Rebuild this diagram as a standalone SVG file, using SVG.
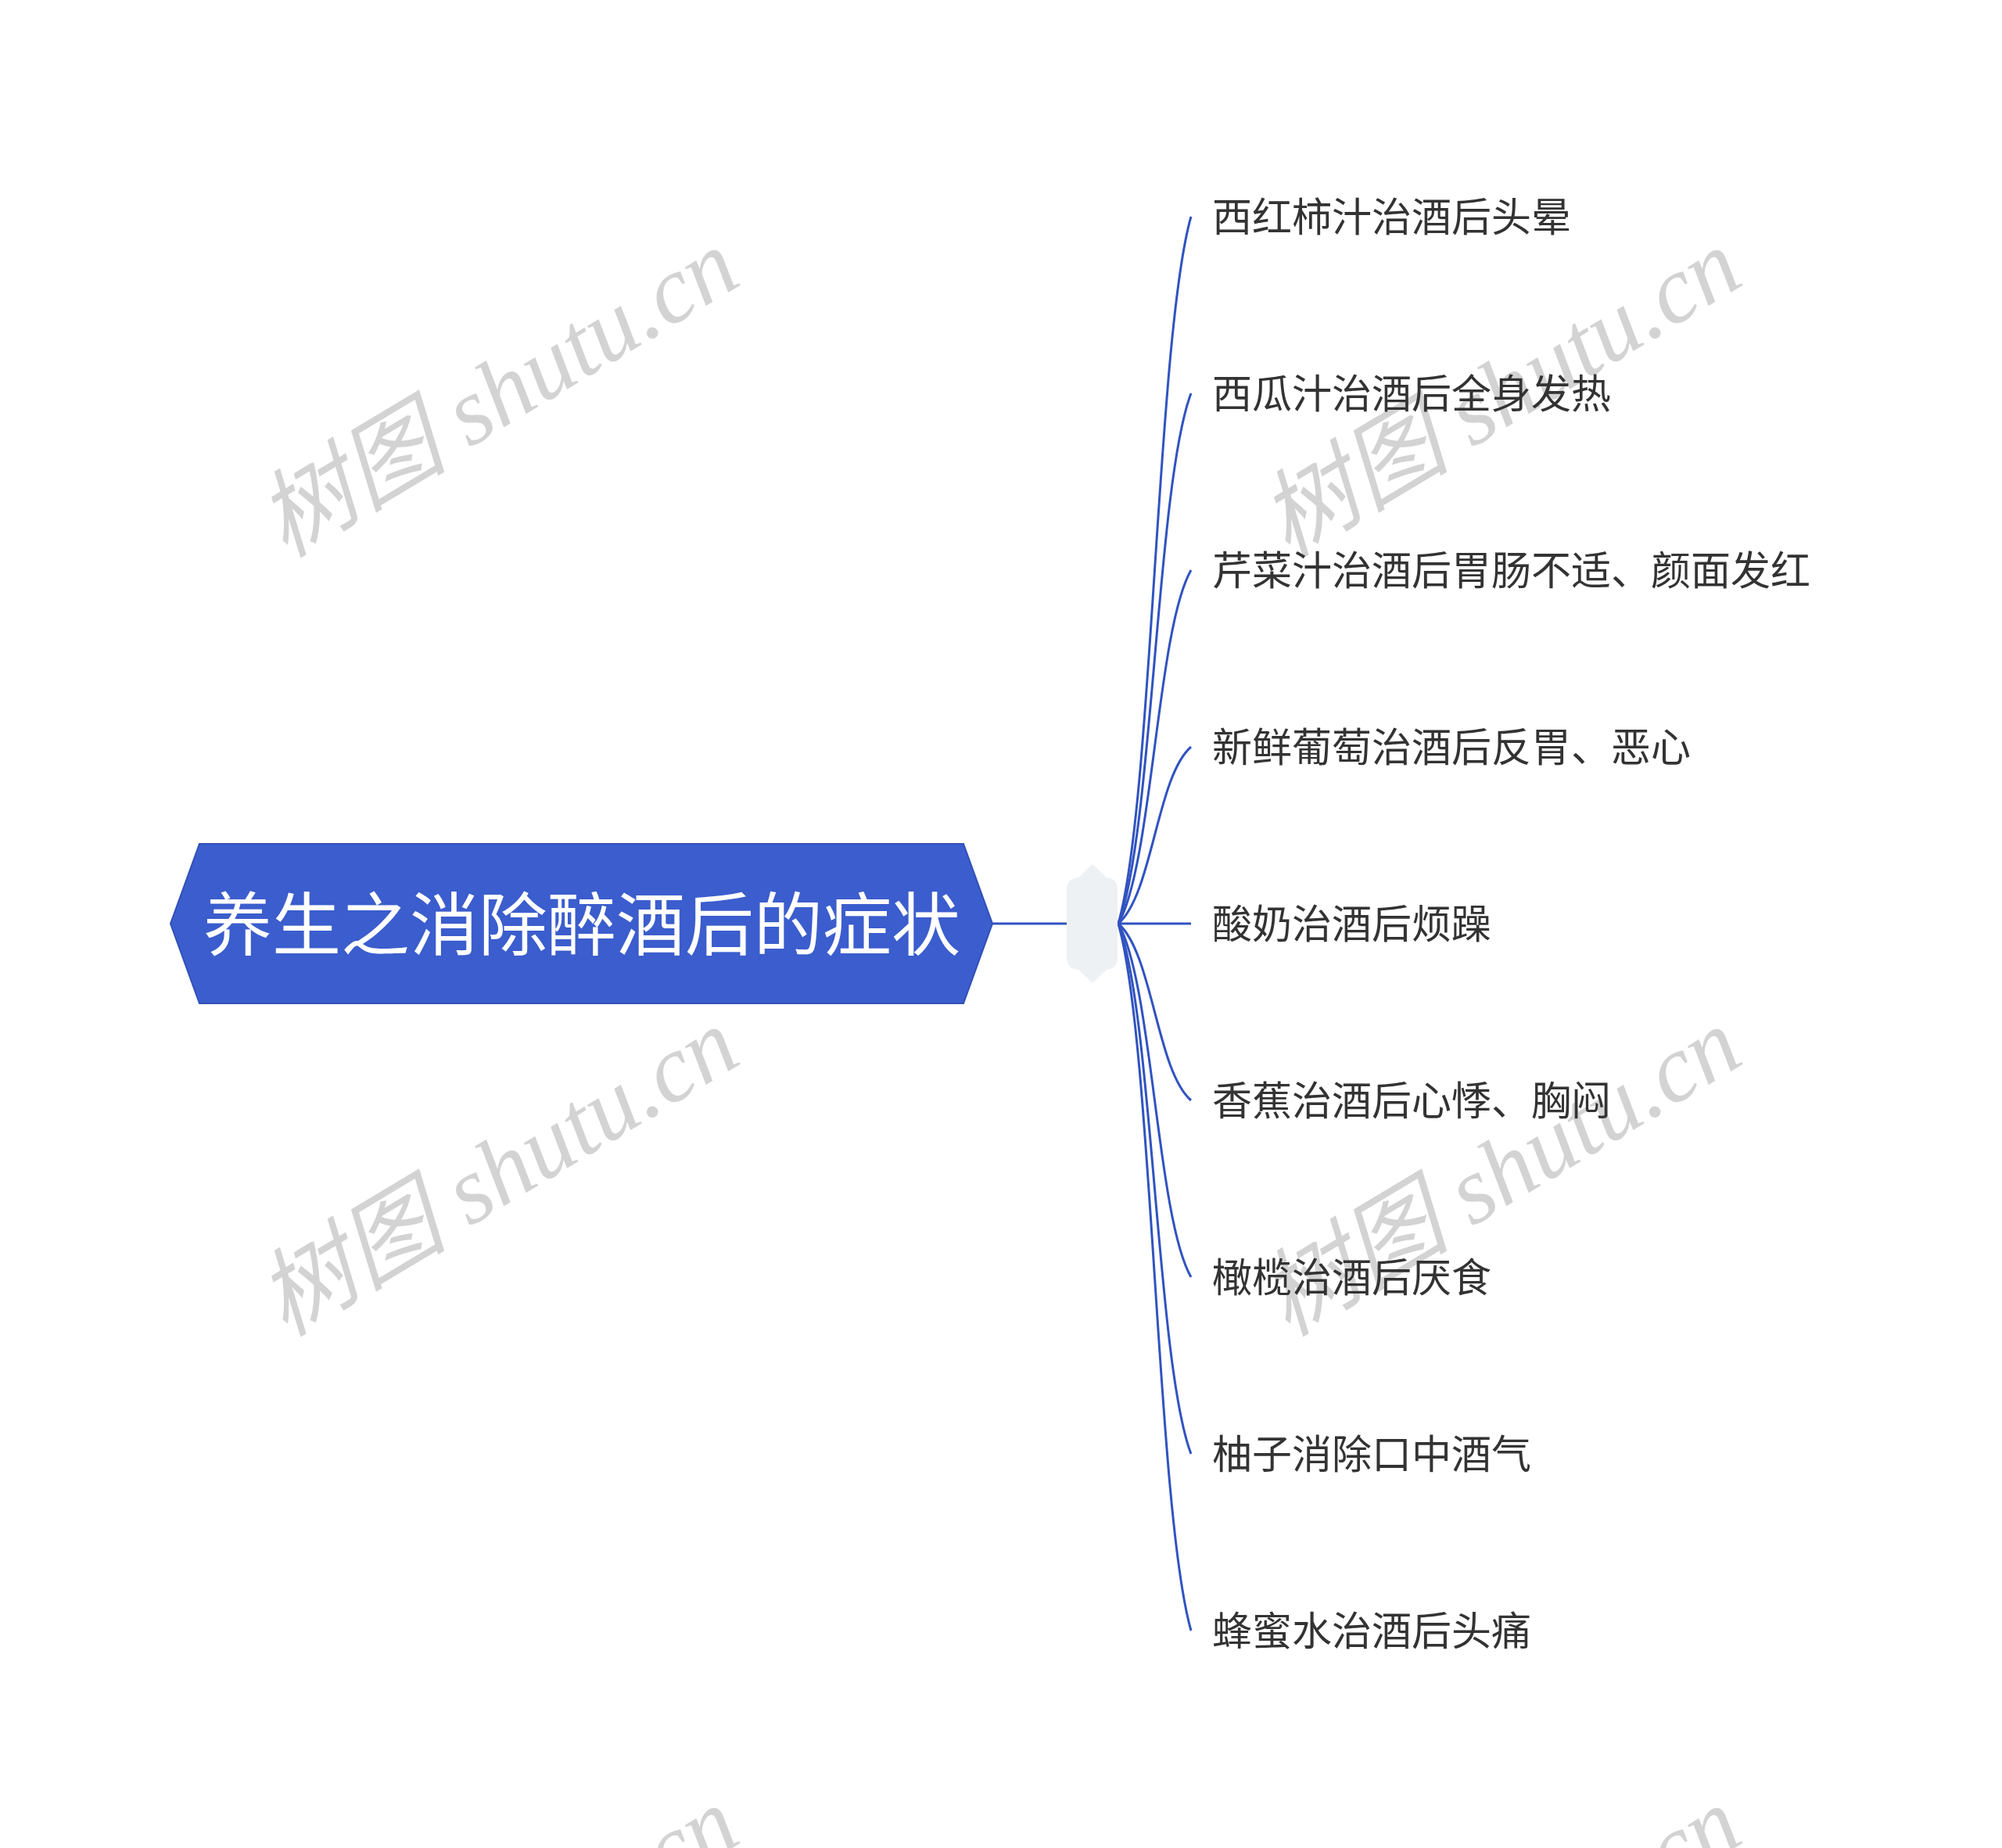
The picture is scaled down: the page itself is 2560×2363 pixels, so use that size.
<svg xmlns="http://www.w3.org/2000/svg" width="2560" height="2363" viewBox="0 0 2560 2363">
<style>
.wm{font-family:"Liberation Serif","Noto Sans CJK SC",serif;font-style:italic;font-size:122px;fill:#d3d3d3;}
.root{font-family:"Noto Sans CJK SC","Noto Sans",sans-serif;font-size:88px;fill:#ffffff;}
.leaf{font-family:"Noto Sans CJK SC","Noto Sans",sans-serif;font-size:51px;fill:#333333;}
.conn{fill:none;stroke:#3153c0;stroke-width:3;}
</style>
<rect width="2560" height="2363" fill="#ffffff"/>
<g id="watermarks">
<text class="wm" x="658" y="538" text-anchor="middle" transform="rotate(-31 658 538)">树图 shutu.cn</text>
<text class="wm" x="1940" y="538" text-anchor="middle" transform="rotate(-31 1940 538)">树图 shutu.cn</text>
<text class="wm" x="658" y="1534" text-anchor="middle" transform="rotate(-31 658 1534)">树图 shutu.cn</text>
<text class="wm" x="1940" y="1534" text-anchor="middle" transform="rotate(-31 1940 1534)">树图 shutu.cn</text>
<text class="wm" x="658" y="2530" text-anchor="middle" transform="rotate(-31 658 2530)">树图 shutu.cn</text>
<text class="wm" x="1940" y="2530" text-anchor="middle" transform="rotate(-31 1940 2530)">树图 shutu.cn</text>
</g>
<g id="connectors">
<path class="conn" d="M1269 1181 H1366"/>
<path class="conn" d="M1428 1181 H1523"/>
<path class="conn" d="M1430 1181 C1474 1027 1479 431 1523 277"/>
<path class="conn" d="M1430 1181 C1474 1066 1479 618 1523 503"/>
<path class="conn" d="M1430 1181 C1474 1104 1479 806 1523 729"/>
<path class="conn" d="M1430 1181 C1474 1143 1479 993 1523 955"/>
<path class="conn" d="M1430 1181 C1474 1219 1479 1369 1523 1407"/>
<path class="conn" d="M1430 1181 C1474 1258 1479 1556 1523 1633"/>
<path class="conn" d="M1430 1181 C1474 1296 1479 1744 1523 1859"/>
<path class="conn" d="M1430 1181 C1474 1335 1479 1931 1523 2085"/>
</g>
<g id="root">
<polygon points="218,1181 255,1079 1232,1079 1269,1181 1232,1283 255,1283" fill="#3b5dcd" stroke="#3150b8" stroke-width="2"/>
<text class="root" x="744" y="1214" text-anchor="middle">养生之消除醉酒后的症状</text>
</g>
<g id="junction">
<path d="M1364 1138 Q1364 1123 1379 1122 L1397 1105 L1415 1122 Q1429 1123 1429 1138 L1429 1224 Q1429 1239 1415 1240 L1397 1257 L1379 1240 Q1364 1239 1364 1224 Z" fill="#eef1f4"/>
</g>
<g id="n1"><text class="leaf" x="1550" y="296">西红柿汁治酒后头晕</text></g>
<g id="n2"><text class="leaf" x="1550" y="522">西瓜汁治酒后全身发热</text></g>
<g id="n3"><text class="leaf" x="1550" y="748">芹菜汁治酒后胃肠不适、颜面发红</text></g>
<g id="n4"><text class="leaf" x="1550" y="974">新鲜葡萄治酒后反胃、恶心</text></g>
<g id="n5"><text class="leaf" x="1550" y="1200">酸奶治酒后烦躁</text></g>
<g id="n6"><text class="leaf" x="1550" y="1426">香蕉治酒后心悸、胸闷</text></g>
<g id="n7"><text class="leaf" x="1550" y="1652">橄榄治酒后厌食</text></g>
<g id="n8"><text class="leaf" x="1550" y="1878">柚子消除口中酒气</text></g>
<g id="n9"><text class="leaf" x="1550" y="2104">蜂蜜水治酒后头痛</text></g>
</svg>
